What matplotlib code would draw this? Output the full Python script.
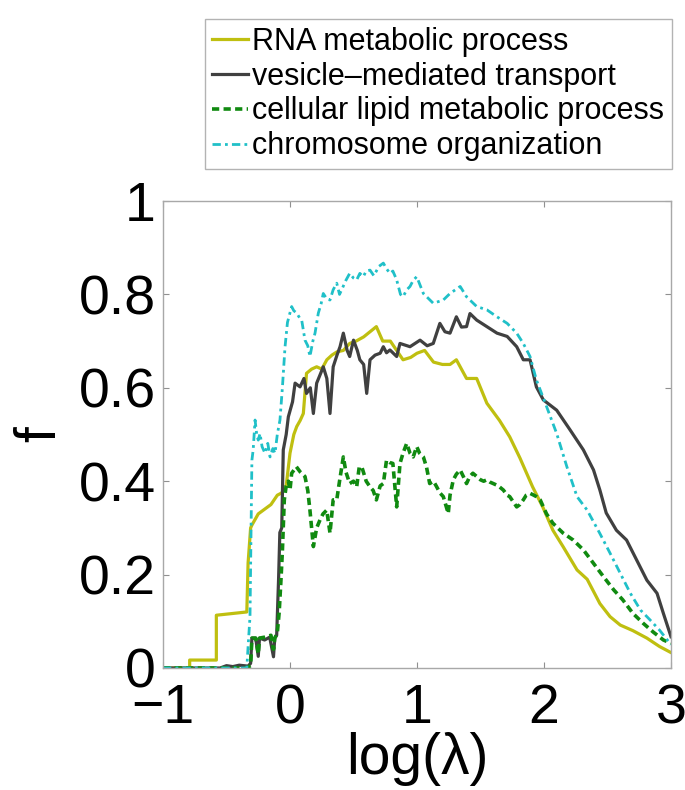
import matplotlib
matplotlib.use("Agg")
import matplotlib.pyplot as plt

plt.rcParams['font.family'] = ['Liberation Sans', 'DejaVu Sans']

labels = ["RNA metabolic process", "vesicle\u2013mediated transport",
          "cellular lipid metabolic process", "chromosome organization"]

rna_x = [-1.0, -0.79, -0.79, -0.58, -0.58, -0.34, -0.33, -0.31, -0.30, -0.25, -0.2, -0.15, -0.1,
         -0.065, -0.03, 0.0, 0.03, 0.053, 0.08, 0.105, 0.13, 0.17, 0.21, 0.25, 0.29, 0.33, 0.37,
         0.42, 0.47, 0.52, 0.58, 0.63, 0.68, 0.73, 0.79, 0.84, 0.89, 0.95, 1.0, 1.06, 1.13, 1.2,
         1.26, 1.31, 1.39, 1.47, 1.55, 1.65, 1.73, 1.81, 1.91, 1.99, 2.07, 2.15, 2.26, 2.34, 2.44,
         2.52, 2.60, 2.70, 2.81, 2.91, 3.0]
rna_y = [0, 0, 0.017, 0.017, 0.113, 0.12, 0.225, 0.30, 0.306, 0.33, 0.34, 0.35, 0.37,
         0.375, 0.39, 0.46, 0.50, 0.517, 0.53, 0.545, 0.631, 0.64, 0.645, 0.64, 0.66, 0.67, 0.677,
         0.68, 0.695, 0.70, 0.709, 0.72, 0.731, 0.70, 0.70, 0.68, 0.66, 0.665, 0.674, 0.68, 0.655, 0.65,
         0.65, 0.66, 0.62, 0.62, 0.567, 0.53, 0.495, 0.45, 0.388, 0.345, 0.295, 0.26, 0.21, 0.19, 0.138,
         0.11, 0.092, 0.08, 0.064, 0.046, 0.033]

ves_x = [-1.0, -0.55, -0.5, -0.45, -0.4, -0.33, -0.31, -0.30, -0.27, -0.25, -0.24, -0.2, -0.16,
         -0.13, -0.12, -0.105, -0.09, -0.08, -0.065, -0.053, -0.03, -0.013, 0.02, 0.04, 0.079, 0.11,
         0.13, 0.16, 0.184, 0.21, 0.24, 0.262, 0.29, 0.315, 0.34, 0.37, 0.394, 0.42, 0.45, 0.47, 0.5,
         0.53, 0.55, 0.58, 0.604, 0.63, 0.67, 0.71, 0.735, 0.76, 0.787, 0.84, 0.866, 0.945, 1.024,
         1.08, 1.128, 1.18, 1.22, 1.26, 1.31, 1.35, 1.39, 1.417, 1.47, 1.55, 1.63, 1.71, 1.785, 1.837,
         1.89, 1.94, 1.995, 2.10, 2.205, 2.31, 2.39, 2.44, 2.49, 2.57, 2.65, 2.73, 2.81, 2.89, 2.94, 3.0]
ves_y = [0, 0, 0.005, 0.003, 0.006, 0.004, 0.01, 0.064, 0.064, 0.025, 0.064, 0.06, 0.066,
         0.024, 0.064, 0.07, 0.19, 0.29, 0.30, 0.467, 0.50, 0.538, 0.57, 0.61, 0.602, 0.62,
         0.588, 0.60, 0.545, 0.61, 0.63, 0.645, 0.62, 0.545, 0.645, 0.67, 0.688, 0.717, 0.68, 0.667, 0.702,
         0.68, 0.66, 0.65, 0.588, 0.66, 0.67, 0.674, 0.688, 0.675, 0.681, 0.667, 0.695, 0.688, 0.702,
         0.69, 0.695, 0.738, 0.72, 0.717, 0.752, 0.73, 0.731, 0.759, 0.745, 0.731, 0.717, 0.71, 0.688, 0.66,
         0.66, 0.602, 0.574, 0.552, 0.51, 0.467, 0.424, 0.381, 0.332, 0.295, 0.274, 0.231, 0.188, 0.16, 0.117, 0.067]

lip_x = [-1.0, -0.34, -0.31, -0.30, -0.27, -0.25, -0.24, -0.2, -0.15, -0.13, -0.12, -0.1, -0.085,
         -0.07, -0.06, -0.045, -0.03, -0.013, 0.0, 0.013, 0.05, 0.08, 0.118, 0.14, 0.157, 0.184, 0.21,
         0.236, 0.26, 0.289, 0.315, 0.34, 0.368, 0.39, 0.42, 0.44, 0.47, 0.5, 0.525, 0.545, 0.565, 0.6,
         0.63, 0.655, 0.68, 0.71, 0.735, 0.76, 0.785, 0.81, 0.84, 0.866, 0.89, 0.919, 0.945, 0.97, 0.998,
         1.02, 1.05, 1.075, 1.10, 1.13, 1.155, 1.18, 1.207, 1.246, 1.26, 1.286, 1.31, 1.34, 1.365, 1.39,
         1.415, 1.44, 1.47, 1.50, 1.525, 1.55, 1.575, 1.60, 1.64, 1.68, 1.71, 1.73, 1.76, 1.785, 1.81,
         1.837, 1.86, 1.89, 1.92, 1.94, 1.97, 1.995, 2.02, 2.07, 2.15, 2.23, 2.31, 2.39, 2.47, 2.55, 2.62,
         2.70, 2.78, 2.86, 2.94, 3.0]
lip_y = [0, 0, 0.005, 0.064, 0.064, 0.03, 0.064, 0.066, 0.07, 0.04, 0.064, 0.075, 0.12,
         0.195, 0.25, 0.36, 0.39, 0.40, 0.381, 0.417, 0.431, 0.42, 0.41, 0.38, 0.338, 0.26, 0.30,
         0.317, 0.33, 0.338, 0.289, 0.36, 0.36, 0.40, 0.452, 0.42, 0.395, 0.40, 0.388, 0.43, 0.431, 0.40,
         0.388, 0.38, 0.36, 0.39, 0.395, 0.445, 0.44, 0.438, 0.345, 0.438, 0.46, 0.481, 0.46, 0.452, 0.474,
         0.46, 0.452, 0.43, 0.395, 0.40, 0.388, 0.375, 0.367, 0.331, 0.37, 0.403, 0.415, 0.424, 0.41, 0.395,
         0.41, 0.417, 0.41, 0.403, 0.40, 0.403, 0.398, 0.395, 0.39, 0.381, 0.37, 0.367, 0.355, 0.345, 0.35,
         0.36, 0.37, 0.374, 0.37, 0.367, 0.36, 0.345, 0.33, 0.31, 0.289, 0.274, 0.253, 0.224, 0.195, 0.167, 0.146,
         0.117, 0.096, 0.077, 0.06, 0.053]

chr_x = [-1.0, -0.34, -0.33, -0.315, -0.30, -0.29, -0.275, -0.262, -0.25, -0.236, -0.22, -0.197,
         -0.175, -0.157, -0.135, -0.118, -0.1, -0.079, -0.06, -0.039, -0.02, 0.013, 0.03, 0.053, 0.075,
         0.092, 0.118, 0.14, 0.157, 0.18, 0.197, 0.223, 0.245, 0.262, 0.29, 0.315, 0.34, 0.368, 0.39,
         0.407, 0.44, 0.47, 0.5, 0.525, 0.55, 0.577, 0.6, 0.63, 0.66, 0.7, 0.735, 0.76, 0.787, 0.81,
         0.84, 0.87, 0.89, 0.92, 0.945, 0.97, 0.998, 1.05, 1.128, 1.207, 1.26, 1.34, 1.39, 1.47, 1.55,
         1.63, 1.71, 1.785, 1.837, 1.89, 1.94, 2.02, 2.10, 2.18, 2.26, 2.34, 2.44, 2.52, 2.60, 2.68,
         2.76, 2.835, 2.91, 3.0]
chr_y = [0, 0, 0.046, 0.11, 0.445, 0.467, 0.531, 0.50, 0.488, 0.502, 0.474, 0.46,
         0.481, 0.452, 0.47, 0.46, 0.50, 0.531, 0.60, 0.688, 0.74, 0.774, 0.765, 0.76, 0.75,
         0.745, 0.702, 0.69, 0.667, 0.70, 0.717, 0.76, 0.78, 0.802, 0.79, 0.788, 0.81, 0.824, 0.80,
         0.81, 0.83, 0.845, 0.835, 0.831, 0.845, 0.838, 0.85, 0.852, 0.84, 0.86, 0.867, 0.855, 0.845, 0.85,
         0.831, 0.80, 0.795, 0.81, 0.817, 0.83, 0.838, 0.802, 0.781, 0.788, 0.802, 0.817, 0.795, 0.774, 0.767,
         0.752, 0.738, 0.717, 0.695, 0.667, 0.617, 0.56, 0.502, 0.431, 0.367, 0.338, 0.288, 0.246, 0.203, 0.16,
         0.124, 0.103, 0.081, 0.05]

x_ticks = [-1, 0, 1, 2, 3]
x_tick_labels = ["\u22121", "0", "1", "2", "3"]
y_ticks = [0, 0.2, 0.4, 0.6, 0.8, 1]
y_tick_labels = ["0", "0.2", "0.4", "0.6", "0.8", "1"]

fig = plt.figure(figsize=(6.85, 7.9), dpi=100)
ax = fig.add_axes([163/685, 1 - 668/790, (671 - 163)/685, (668 - 201)/790])

l1, = ax.plot(rna_x, rna_y, color="#bfbf10", lw=2.3)
l2, = ax.plot(ves_x, ves_y, color="#404040", lw=2.3)
l3, = ax.plot(lip_x, lip_y, color="#108a10", lw=2.6, linestyle=(0, (2.0, 1.2)))
l4, = ax.plot(chr_x, chr_y, color="#20c0c8", lw=2.0, linestyle=(0, (3.0, 1.5, 1.0, 1.5)))

ax.set_xlim(-1, 3)
ax.set_ylim(0, 1)
ax.set_xticks(x_ticks)
ax.set_xticklabels(x_tick_labels)
ax.set_yticks(y_ticks)
ax.set_yticklabels(y_tick_labels)
ax.tick_params(direction="in", length=4, width=0.8, color="#909090",
               labelsize=40, top=True, right=True)
ax.tick_params(axis="y", pad=5)
ax.tick_params(axis="x", pad=11)
for s in ax.spines.values():
    s.set_color("#a8a8a8")
    s.set_linewidth(1.0)

ax.set_xlabel("log(\u03bb)", fontsize=41, labelpad=-2)
ax.set_ylabel("f", fontsize=41, labelpad=8)

leg = fig.legend([l1, l2, l3, l4], labels,
                 loc="upper right", bbox_to_anchor=(672/685, 1 - 19/790),
                 fontsize=22, frameon=True, fancybox=False, handlelength=1.18,
                 handletextpad=0.13, borderpad=0.25, labelspacing=0.16, borderaxespad=0)
leg.get_frame().set_edgecolor("#a0a0a0")
leg.get_frame().set_linewidth(1.0)

fig.savefig("out.png", dpi=100)
